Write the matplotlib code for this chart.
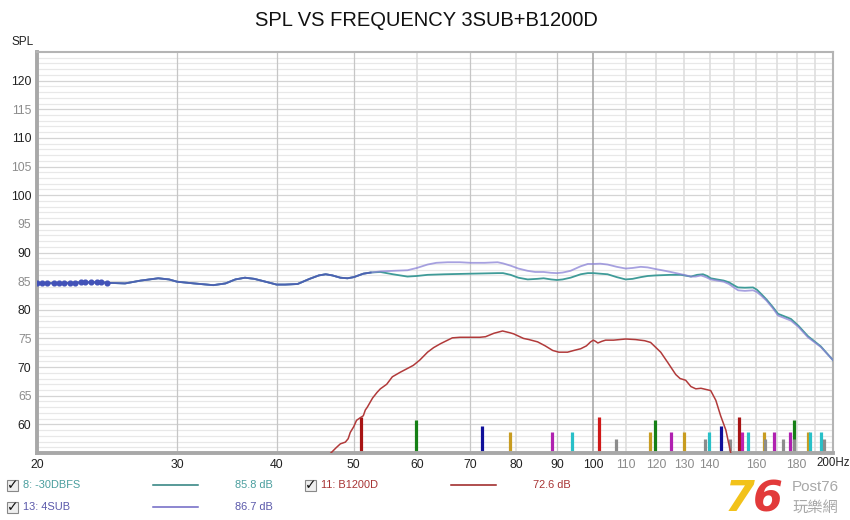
import numpy as np
import matplotlib
matplotlib.use('Agg')
import matplotlib.pyplot as plt
from matplotlib.patches import Rectangle

plt.rcParams['font.family'] = ['Liberation Sans', 'DejaVu Sans']

# ---- data ----
dot_freq = [20.0, 20.3, 20.6, 21.0, 21.3, 21.6, 22.0, 22.3, 22.7, 23.0, 23.4, 23.8, 24.1, 24.5]
dot_spl = [84.6, 84.6, 84.6, 84.6, 84.6, 84.65, 84.7, 84.7, 84.8, 84.8, 84.85, 84.8, 84.8, 84.7]

common_freq = [20, 21, 22, 23, 24, 24.6, 25.8, 27, 28.4, 29.3, 30, 31.5, 33.3, 34.5, 35.5, 36.5,
               37.5, 39, 40, 41, 42.5, 44, 45.2, 46.1, 47, 48.1, 49.1, 50, 51.4, 52.5]
common_spl = [84.6, 84.65, 84.7, 84.8, 84.8, 84.7, 84.6, 85.1, 85.5, 85.3, 84.9, 84.6, 84.3, 84.6,
              85.3, 85.6, 85.4, 84.8, 84.4, 84.4, 84.5, 85.4, 86.0, 86.2, 86.0, 85.6, 85.5, 85.7,
              86.3, 86.5]

sub_freq = [54, 56, 58.4, 60, 61.9, 63.5, 65.6, 68, 70.1, 73, 75.8, 77, 78.7, 80.5, 82.7, 84.5,
            86.6, 88.5, 90, 91.5, 93.6, 96.4, 98.4, 100, 102, 104.2, 107, 109.8, 112, 114.7, 117,
            119.8, 122, 125.1, 129.9, 132.6, 134.5, 136.5, 138.5, 140.4, 143, 145.8, 148, 150.5,
            152, 155, 158.7, 160.5, 162.4, 165, 168, 170.6, 173.5, 177.1, 181, 186, 193.1, 200]
sub_spl = [86.7, 86.8, 86.9, 87.3, 87.9, 88.2, 88.3, 88.3, 88.2, 88.2, 88.3, 88.1, 87.7, 87.2,
           86.8, 86.6, 86.6, 86.45, 86.4, 86.5, 86.8, 87.6, 88.0, 88.0, 88.05, 87.9, 87.5, 87.2,
           87.3, 87.5, 87.4, 87.1, 86.9, 86.6, 86.1, 85.8, 85.8, 86.0, 85.7, 85.3, 85.1, 84.9,
           84.5, 83.8, 83.4, 83.3, 83.4, 83.1, 82.5, 81.6, 80.3, 79.0, 78.6, 78.1, 77.0, 75.2,
           73.5, 71.2]

dbfs_freq = [54, 56, 58.4, 60, 61.9, 65, 70, 75.8, 77, 78.7, 80.5, 82.7, 85, 86.6, 88.5, 90, 91.5,
             93.6, 96.4, 98.4, 100, 102, 104.2, 107, 109.8, 112, 114.7, 117, 119.8, 125, 128.8,
             132.6, 135, 137.3, 139, 140.4, 143, 145.8, 148, 150.5, 151.9, 155, 158.7, 160.5,
             162.4, 165, 168, 170.6, 173.5, 177.1, 181, 186, 193.1, 200]
dbfs_spl = [86.6, 86.2, 85.8, 85.9, 86.1, 86.2, 86.3, 86.4, 86.4, 86.1, 85.6, 85.3, 85.4, 85.5,
            85.3, 85.2, 85.3, 85.6, 86.2, 86.4, 86.4, 86.3, 86.2, 85.7, 85.3, 85.4, 85.7, 85.9,
            86.0, 86.1, 86.1, 85.8, 86.1, 86.2, 85.9, 85.5, 85.3, 85.1, 84.8, 84.2, 83.9, 83.85,
            83.9, 83.5, 82.8, 81.8, 80.5, 79.3, 78.9, 78.4, 77.2, 75.4, 73.6, 71.2]

b1200_freq = [46.8, 47.5, 48.1, 48.8, 49.2, 49.5, 50, 50.4, 51.0, 51.4, 51.7, 52.0, 52.8, 53.5,
              54.0, 55.0, 55.9, 57.2, 58.3, 59.4, 60.5, 61.9, 63.0, 64.3, 66.5, 68, 70.1, 72,
              73.2, 75, 76.9, 78.5, 79.4, 81.7, 83, 85.1, 87, 88.9, 90.5, 92.8, 94.5, 96.4, 98,
              99.2, 100, 100.6, 101.3, 102.5, 103.6, 106, 109.8, 113, 116, 118, 121.5, 124,
              126.9, 128.5, 130.6, 132.6, 134.5, 136.5, 140.4, 142.5, 144.5, 146.7, 148.8]
b1200_spl = [55.0, 55.9, 56.6, 56.9, 57.5, 58.6, 59.6, 60.7, 61.2, 61.5, 62.5, 63.0, 64.6, 65.6,
             66.2, 67.0, 68.3, 69.1, 69.7, 70.3, 71.2, 72.6, 73.4, 74.1, 75.1, 75.2, 75.2, 75.2,
             75.3, 75.9, 76.3, 76.0, 75.8, 75.0, 74.8, 74.4, 73.7, 72.9, 72.6, 72.6, 72.9, 73.2,
             73.7, 74.4, 74.7, 74.5, 74.2, 74.5, 74.7, 74.7, 74.9, 74.8, 74.6, 74.3, 72.6, 70.8,
             68.7, 68.0, 67.7, 66.6, 66.2, 66.3, 65.9, 64.2, 61.5, 59.0, 55.0]

# harmonic markers
peak_freq = [51.0, 59.8, 72.4, 78.5, 88.6, 93.9, 101.6, 106.7, 117.8, 119.5, 125.0, 129.8, 138.2,
             139.7, 144.6, 148.4, 152.6, 153.5, 156.5, 163.8, 164.5, 168.8, 172.9, 176.6, 178.8,
             178.9, 186.0, 187.0, 193.0, 194.6]
peak_spl = [61.3, 60.7, 59.7, 58.6, 58.6, 58.6, 61.3, 57.5, 58.6, 60.7, 58.6, 58.6, 57.5,
            58.6, 59.7, 57.5, 61.3, 58.6, 58.6, 58.6, 57.5, 58.6, 57.5, 58.6, 60.7,
            57.5, 58.6, 58.6, 58.6, 57.5]
peak_colors = ['#a81414', '#168016', '#10109a', '#c89c20', '#b020b0', '#28c0c8', '#d01818',
               '#8c8c8c', '#c89c20', '#168016', '#b020b0', '#c89c20', '#8c8c8c', '#28c0c8',
               '#10109a', '#8c8c8c', '#a81414', '#c020b0', '#28c0c8', '#c89c20', '#8c8c8c',
               '#b020b0', '#8c8c8c', '#b020b0', '#168016', '#8c8c8c', '#c89c20', '#28c0c8',
               '#28c0c8', '#8c8c8c']

xticks = [20, 30, 40, 50, 60, 70, 80, 90, 100, 110, 120, 130, 140, 160, 180]
yticks = [60, 65, 70, 75, 80, 85, 90, 95, 100, 105, 110, 115, 120]

legend_names = ['8: -30DBFS', '13: 4SUB', '11: B1200D']
legend_values = ['85.8 dB', '86.7 dB', '72.6 dB']

# ---- figure ----
W, H = 850, 520
fig = plt.figure(figsize=(8.5, 5.2), dpi=100)
ax = fig.add_axes([37 / W, 1 - 453 / H, (833 - 37) / W, (453 - 52) / H])
ax.set_xscale('log')
ax.set_xlim(20, 200)
ax.set_ylim(55, 125)

# grid
for db in range(56, 125):
    c = '#d4d4d4' if db % 5 == 0 else '#e8e8e8'
    ax.axhline(db, color=c, lw=0.9, zorder=0)
for f in [30, 40, 50, 70, 90]:
    ax.axvline(f, color='#c6c6c6', lw=0.9, zorder=0)
for f in [60, 80, 110, 120, 130, 140, 150, 160, 170, 180, 190]:
    ax.axvline(f, color='#dedede', lw=1.2, zorder=0)
ax.axvline(100, color='#a8a8a8', lw=1.2, zorder=0)

# curves
teal = '#3f9b98'
purple = '#8a82d6'
red = '#b13a3a'
ax.plot(common_freq + dbfs_freq, common_spl + dbfs_spl, color=teal, lw=1.3, zorder=3)
ax.plot(common_freq + sub_freq, common_spl + sub_spl, color=purple, lw=1.3, alpha=0.75, zorder=4)
ax.plot(common_freq, common_spl, color='#4a62b0', lw=1.3, zorder=5)
ax.plot(b1200_freq, b1200_spl, color=red, lw=1.1, zorder=3)
ax.plot(dot_freq, dot_spl, 'o', color='#4252b8', ms=3.4, zorder=6)

# harmonic bars
ax.vlines(peak_freq, 55, peak_spl, colors=peak_colors, lw=2.3, zorder=2)

# ticks
ax.xaxis.set_minor_locator(matplotlib.ticker.NullLocator())
ax.set_xticks(xticks)
ax.set_xticklabels([str(f) for f in xticks])
for lab, f in zip(ax.get_xticklabels(), xticks):
    lab.set_color('#222222' if f <= 100 else '#8c8c8c')
ax.set_yticks(yticks)
ax.set_yticklabels([str(v) for v in yticks])
for lab, v in zip(ax.get_yticklabels(), yticks):
    lab.set_color('#222222' if v % 10 == 0 else '#8c8c8c')
ax.tick_params(axis='both', length=0, labelsize=8.8)
ax.tick_params(axis='x', pad=4)
ax.tick_params(axis='y', pad=4)

# end label sits to the right of the last grid line
fig.text(816 / W, 1 - 463.5 / H, '200Hz', ha='left', va='center', fontsize=8.3, color='#222222')

for sp in ax.spines.values():
    sp.set_color('#b4b4b4')
    sp.set_linewidth(1.5)
ax.spines['left'].set_linewidth(2.8)
ax.spines['bottom'].set_linewidth(2.8)
ax.spines['left'].set_color('#a8a8a8')
ax.spines['bottom'].set_color('#a8a8a8')

# title and axis name
fig.text(426 / W, 1 - 20 / H, 'SPL VS FREQUENCY 3SUB+B1200D', ha='center', va='center',
         fontsize=14.5, color='#111111')
fig.text(12 / W, 1 - 42 / H, 'SPL', ha='left', va='center', fontsize=8.5, color='#222222')

# legend rows
line_cols = ['#2a7f7c', '#6e66c4', '#9a1e1e']
text_cols = ['#4a9e9e', '#5a58aa', '#a83434']
rows = [(7, 485), (7, 507), (305, 485)]
for (x0, yc), name, val, lc, tc in zip(rows, legend_names, legend_values, line_cols, text_cols):
    fig.patches.append(Rectangle((x0 / W, 1 - (yc + 6) / H), 11 / W, 11 / H, transform=fig.transFigure,
                                 facecolor='#eeeeee', edgecolor='#888888', lw=0.8))
    fig.text((x0 + 5.5) / W, 1 - (yc + 0.5) / H, '\u2713', ha='center', va='center', fontsize=10,
             color='#111111', fontweight='bold', family='DejaVu Sans')
    fig.text((x0 + 16) / W, 1 - yc / H, name, ha='left', va='center', fontsize=7.9, color=tc)
    fig.lines.append(plt.Line2D([(x0 + 146) / W, (x0 + 191) / W], [1 - yc / H, 1 - yc / H],
                                transform=fig.transFigure, color=lc, lw=1.1))
    fig.text((x0 + 266) / W, 1 - yc / H, val, ha='right', va='center', fontsize=7.9, color=tc)

# watermark logo
fig.text(725 / W, 1 - 499 / H, '7', ha='left', va='center', fontsize=31, fontweight='bold',
         style='italic', color='#f2c21a', family='DejaVu Sans')
fig.text(753 / W, 1 - 499 / H, '6', ha='left', va='center', fontsize=31, fontweight='bold',
         style='italic', color='#e23a3a', family='DejaVu Sans')
fig.text(792 / W, 1 - 487 / H, 'Post76', ha='left', va='center', fontsize=11, color='#a8a8a8')
fig.text(792 / W, 1 - 507 / H, '玩樂網', ha='left', va='center', fontsize=11, color='#a8a8a8',
         family=['Noto Sans CJK TC', 'DejaVu Sans'])

fig.savefig('out.png', dpi=100)
